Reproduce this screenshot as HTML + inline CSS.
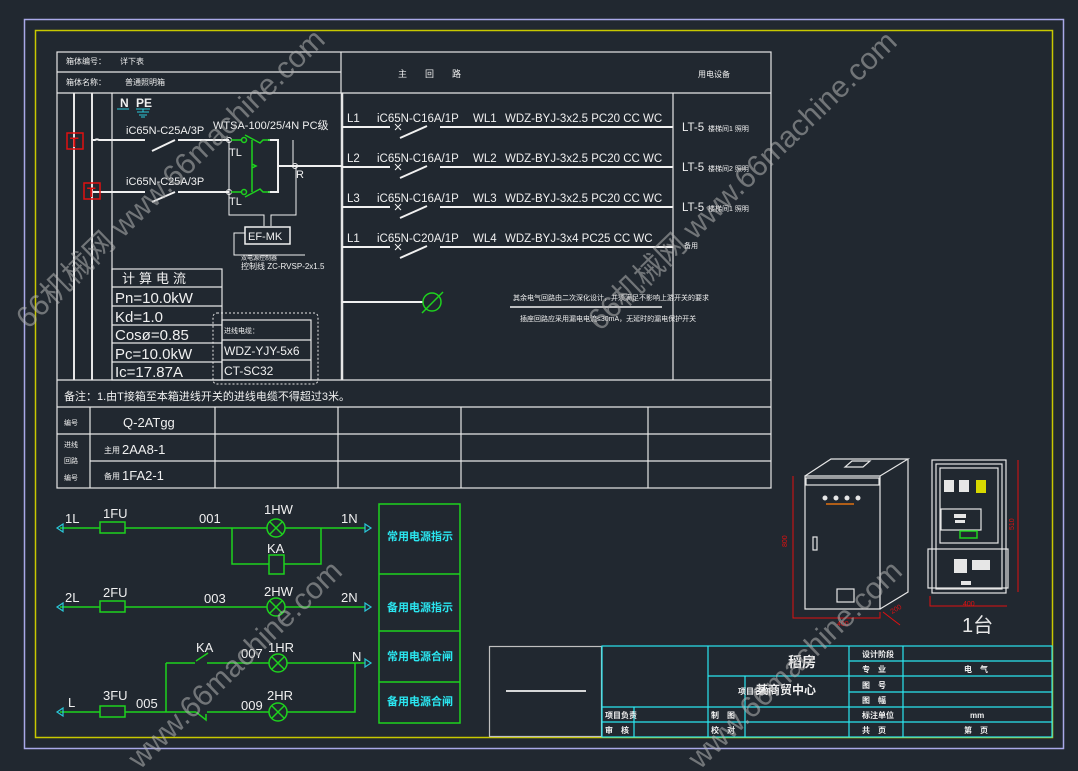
<!DOCTYPE html>
<html><head><meta charset="utf-8"><style>
html,body{margin:0;padding:0;background:#212830;}
svg{display:block}
text{font-family:"Liberation Sans","Noto Sans CJK SC",sans-serif;}
</style></head><body>
<svg width="1078" height="771" viewBox="0 0 1078 771" xmlns="http://www.w3.org/2000/svg">
<rect width="1078" height="771" fill="#212830"/>
<rect x="24.5" y="19.5" width="1039" height="729" fill="none" stroke="#a9a9e8" stroke-width="1.5"/>
<rect x="35.5" y="30.5" width="1017" height="707" fill="none" stroke="#c8c800" stroke-width="1.5"/>

<g stroke="#e6e6e6" stroke-width="1.2" fill="none">
<rect x="57" y="52" width="714" height="436"/>
<line x1="57" y1="72" x2="341" y2="72"/>
<line x1="341" y1="52" x2="341" y2="93"/>
<line x1="57" y1="93" x2="771" y2="93"/>
<line x1="673" y1="93" x2="673" y2="380"/>
<line x1="57" y1="380" x2="771" y2="380"/>
<line x1="57" y1="407" x2="771" y2="407"/>
<line x1="57" y1="434" x2="771" y2="434"/>
<line x1="90" y1="461" x2="771" y2="461"/>
<line x1="90" y1="407" x2="90" y2="488"/>
<line x1="215" y1="407" x2="215" y2="488"/>
<line x1="338" y1="407" x2="338" y2="488"/>
<line x1="461" y1="407" x2="461" y2="488"/>
<line x1="648" y1="407" x2="648" y2="488"/>
<line x1="74" y1="93" x2="74" y2="380" stroke-width="2"/>
<line x1="92" y1="93" x2="92" y2="380" stroke-width="2"/>
<line x1="112" y1="93" x2="112" y2="380"/>
<line x1="342" y1="93" x2="342" y2="380" stroke-width="2.5"/>
<rect x="112" y="269" width="110" height="111"/>
<line x1="112" y1="287" x2="222" y2="287"/>
<line x1="112" y1="306" x2="222" y2="306"/>
<line x1="112" y1="325" x2="222" y2="325"/>
<line x1="112" y1="343" x2="222" y2="343"/>
<line x1="112" y1="362" x2="222" y2="362"/>
<rect x="222" y="320" width="89" height="60"/>
<line x1="222" y1="340" x2="311" y2="340"/>
<line x1="222" y1="360" x2="311" y2="360"/>
</g>
<rect x="213" y="313" width="105" height="71" rx="4" fill="none" stroke="#e6e6e6" stroke-width="1" stroke-dasharray="2,2"/>

<g stroke="#f0f0f0" stroke-width="2" fill="none">
<path d="M342 127H390M400 138L427 126M440 127H673"/>
<path d="M342 167H390M400 178L427 166M440 167H673"/>
<path d="M342 207H390M400 218L427 206M440 207H673"/>
<path d="M342 247H390M400 258L427 246M440 247H673"/>
<path d="M342 302H423"/>
</g>
<g stroke="#f0f0f0" stroke-width="1">
<path d="M395 124l6 6M401 124l-6 6M395 164l6 6M401 164l-6 6M395 204l6 6M401 204l-6 6M395 244l6 6M401 244l-6 6"/>
</g>
<circle cx="432" cy="302" r="9" fill="none" stroke="#1ed21e" stroke-width="1.5"/>
<line x1="422" y1="313" x2="443" y2="292" stroke="#1ed21e" stroke-width="1.5"/>
<line x1="510" y1="307" x2="662" y2="307" stroke="#f0f0f0" stroke-width="1.5"/>

<g fill="#f0f0f0" font-size="11.5">
<text x="347" y="122">L1</text><text x="377" y="122">iC65N-C16A/1P</text><text x="473" y="122">WL1</text><text x="505" y="122">WDZ-BYJ-3x2.5 PC20 CC WC</text>
<text x="347" y="162">L2</text><text x="377" y="162">iC65N-C16A/1P</text><text x="473" y="162">WL2</text><text x="505" y="162">WDZ-BYJ-3x2.5 PC20 CC WC</text>
<text x="347" y="202">L3</text><text x="377" y="202">iC65N-C16A/1P</text><text x="473" y="202">WL3</text><text x="505" y="202">WDZ-BYJ-3x2.5 PC20 CC WC</text>
<text x="347" y="242">L1</text><text x="377" y="242">iC65N-C20A/1P</text><text x="473" y="242">WL4</text><text x="505" y="242">WDZ-BYJ-3x4 PC25 CC WC</text>
<text x="682" y="131">LT-5</text><text x="708" y="131" font-size="7">楼梯间1 照明</text>
<text x="682" y="171">LT-5</text><text x="708" y="171" font-size="7">楼梯间2 照明</text>
<text x="682" y="211">LT-5</text><text x="708" y="211" font-size="7">楼梯间1 照明</text>
<text x="684" y="248" font-size="7">备用</text>
<text x="513" y="300" font-size="7">其余电气回路由二次深化设计，并须满足不影响上游开关的要求</text>
<text x="520" y="321" font-size="7">插座回路应采用漏电电流≤30mA，无延时的漏电保护开关</text>
<text x="398" y="77" font-size="9">主　　回　　路</text>
<text x="698" y="77" font-size="8">用电设备</text>
<text x="66" y="64" font-size="8">箱体编号：</text><text x="120" y="64" font-size="8">详下表</text>
<text x="66" y="85" font-size="8">箱体名称：</text><text x="125" y="85" font-size="8">普通照明箱</text>
<text x="64" y="400" font-size="11">备注：1.由T接箱至本箱进线开关的进线电缆不得超过3米。</text>
<text x="122" y="283" font-size="13" letter-spacing="4">计算电流</text>
<text x="115" y="303" font-size="15">Pn=10.0kW</text>
<text x="115" y="322" font-size="15">Kd=1.0</text>
<text x="115" y="340" font-size="15">Cosø=0.85</text>
<text x="115" y="359" font-size="15">Pc=10.0kW</text>
<text x="115" y="377" font-size="15">Ic=17.87A</text>
<text x="224" y="333" font-size="7">进线电缆：</text>
<text x="224" y="355" font-size="12">WDZ-YJY-5x6</text>
<text x="224" y="375" font-size="12">CT-SC32</text>
<text x="64" y="425" font-size="7">编号</text>
<text x="123" y="427" font-size="13">Q-2ATgg</text>
<text x="64" y="447" font-size="7">进线</text><text x="64" y="463" font-size="7">回路</text><text x="64" y="480" font-size="7">编号</text>
<text x="104" y="453" font-size="8">主用</text><text x="122" y="454" font-size="13">2AA8-1</text>
<text x="104" y="479" font-size="8">备用</text><text x="122" y="480" font-size="13">1FA2-1</text>
<text x="126" y="134" font-size="11">iC65N-C25A/3P</text>
<text x="126" y="185" font-size="11">iC65N-C25A/3P</text>
<text x="213" y="129" font-size="11">WTSA-100/25/4N PC级</text>
<text x="229" y="156" font-size="11">TL</text><text x="229" y="205" font-size="11">TL</text><text x="296" y="178" font-size="11">R</text>
<text x="248" y="240" font-size="11">EF-MK</text>
<text x="241" y="260" font-size="6">双电源控制器</text>
<text x="241" y="269" font-size="8">控制线 ZC-RVSP-2x1.5</text>
</g>
<text x="120" y="107" font-size="12" font-weight="bold" fill="#f0f0f0">N</text>
<text x="136" y="107" font-size="12" font-weight="bold" fill="#f0f0f0">PE</text>
<path d="M117 109H129M136 109H150M143 109v3M137 112h12M139 115h8M141 117h4" stroke="#2ac8d8" stroke-width="1" fill="none"/>

<g stroke="#f0f0f0" fill="none">
<path d="M92 140H95a4 4 0 0 1 4 0H145M152 151L175 140M178 140H229" stroke-width="2"/>
<path d="M92 192H145M152 202L175 192M178 192H229" stroke-width="2"/>
<path d="M229 140V192M229 192V215H264V226M293 140V166M296 166V215H271V226M293 166H342" stroke-width="1"/>
<path d="M268 140H278V192H268M278 166H342" stroke-width="2"/>
<path d="M245 233H234V255H305" stroke-width="1"/>
<rect x="245" y="227" width="45" height="17" stroke-width="1.5"/>
<circle cx="229" cy="140" r="2.5"/><circle cx="229" cy="192" r="2.5"/><circle cx="295" cy="166" r="2.5"/>
</g>
<g stroke="#1ed21e" stroke-width="1.5" fill="none">
<path d="M231 140H242M231 192H242"/><circle cx="244" cy="140" r="2.5"/><circle cx="244" cy="192" r="2.5"/>
<path d="M245 135L260 143L263 140H270M245 197L260 189L263 192H270M252 140V192M252 164l4 2l-4 2"/>
</g>
<rect x="67" y="133" width="16" height="16" fill="none" stroke="#e01010" stroke-width="1.5"/>
<text x="70" y="147" fill="#e01010" font-size="14" font-weight="bold">T</text>
<rect x="84" y="183" width="16" height="16" fill="none" stroke="#e01010" stroke-width="1.5"/>
<text x="87" y="197" fill="#e01010" font-size="14" font-weight="bold">T</text>

<g stroke="#1ed21e" stroke-width="1.5" fill="none">
<path d="M60 528H100M125 528H267M285 528H365"/>
<rect x="100" y="522" width="25" height="11"/>
<path d="M232 528V564H269M284 564H321V528"/>
<rect x="269" y="555" width="15" height="19"/>
<path d="M60 607H100M125 607H267M285 607H365"/>
<rect x="100" y="601" width="25" height="11"/>
<path d="M166 663H195M207 663H269M287 663H365"/>
<path d="M196 661L208 653"/>
<path d="M60 712H100M125 712H196M207 712H269M287 712H355V663"/>
<path d="M196 712L206 720V714"/>
<rect x="100" y="706" width="25" height="11"/>
<path d="M166 663V712"/>
<rect x="379" y="504" width="81" height="219"/>
<path d="M379 574H460M379 631H460M379 682H460"/>
</g>
<g stroke="#1ed21e" stroke-width="1.5" fill="none">
<circle cx="276" cy="528" r="9"/><path d="M270 522l12 12M282 522l-12 12"/>
<circle cx="276" cy="607" r="9"/><path d="M270 601l12 12M282 601l-12 12"/>
<circle cx="278" cy="663" r="9"/><path d="M272 657l12 12M284 657l-12 12"/>
<circle cx="278" cy="712" r="9"/><path d="M272 706l12 12M284 706l-12 12"/>
</g>
<g stroke="#2ac8d8" stroke-width="1.2" fill="none">
<path d="M63 524L57 528L63 532Z"/><path d="M63 603L57 607L63 611Z"/><path d="M63 708L57 712L63 716Z"/>
<path d="M365 524L371 528L365 532Z"/><path d="M365 603L371 607L365 611Z"/><path d="M365 659L371 663L365 667Z"/>
</g>
<g fill="#f0f0f0" font-size="13">
<text x="65" y="523">1L</text><text x="103" y="518">1FU</text><text x="199" y="523">001</text><text x="264" y="514">1HW</text><text x="341" y="523">1N</text><text x="267" y="553">KA</text>
<text x="65" y="602">2L</text><text x="103" y="597">2FU</text><text x="204" y="603">003</text><text x="264" y="596">2HW</text><text x="341" y="602">2N</text>
<text x="196" y="652">KA</text><text x="241" y="658">007</text><text x="268" y="652">1HR</text><text x="352" y="661">N</text>
<text x="68" y="707">L</text><text x="103" y="700">3FU</text><text x="136" y="708">005</text><text x="241" y="710">009</text><text x="267" y="700">2HR</text>
</g>
<g fill="#2ae6f0" font-size="11" font-weight="bold" text-anchor="middle">
<text x="420" y="540">常用电源指示</text><text x="420" y="611">备用电源指示</text><text x="420" y="660">常用电源合闸</text><text x="420" y="705">备用电源合闸</text>
</g>

<g stroke="#e6e6e6" stroke-width="1.2" fill="none">
<path d="M805 476H880V609H805Z"/><path d="M805 476L831 459H908L880 476M908 459V592L880 609"/>
<rect x="806" y="478" width="73" height="7"/>
<polygon points="852,461 870,461 863,467 845,467"/>
<rect x="813" y="537" width="4" height="13"/>
<rect x="837" y="589" width="17" height="13"/>
<rect x="932" y="460" width="74" height="133"/><rect x="936" y="464" width="66" height="125"/>
<rect x="940" y="468" width="58" height="75"/>
<rect x="941" y="509" width="40" height="21"/>
<rect x="928" y="549" width="80" height="39"/>
</g>
<g fill="#e6e6e6">
<rect x="944" y="480" width="10" height="12"/><rect x="959" y="480" width="10" height="12"/>
<rect x="954" y="514" width="12" height="4"/><rect x="955" y="520" width="10" height="3"/>
<rect x="954" y="559" width="13" height="14"/><rect x="972" y="560" width="18" height="10"/>
<rect x="961" y="581" width="10" height="4"/>
<text x="962" y="632" font-family="Liberation Serif,serif" font-size="20">1台</text>
</g>
<rect x="976" y="480" width="10" height="13" fill="#d8d800"/>
<rect x="960" y="531" width="17" height="7" fill="none" stroke="#1ed21e" stroke-width="1.5"/>
<path d="M826 504h28" stroke="#e07010" stroke-width="1.5"/>
<g stroke="#e6e6e6" fill="#e6e6e6"><circle cx="825" cy="498" r="2"/><circle cx="836" cy="498" r="2"/><circle cx="847" cy="498" r="2"/><circle cx="858" cy="498" r="2"/></g>
<g stroke="#e01010" stroke-width="1" fill="none">
<path d="M793 476V609M793 609V618H880V612M930 596V606H1007M1018 460V592"/><path d="M883 612L900 625"/>
</g>
<g fill="#e01010" font-size="7">
<text x="787" y="547" transform="rotate(-90 787 547)">800</text><text x="837" y="626">400</text><text x="1014" y="530" transform="rotate(-90 1014 530)">510</text><text x="963" y="606">400</text><text x="892" y="614" transform="rotate(-30 892 614)">200</text>
</g>

<rect x="489.5" y="646.5" width="112" height="90" fill="none" stroke="#c0c0c0" stroke-width="1.2"/>
<line x1="506" y1="691" x2="586" y2="691" stroke="#f0f0f0" stroke-width="1.8"/>
<g stroke="#2ae6f0" stroke-width="1.2" fill="none">
<rect x="602" y="646" width="450" height="91"/>
<path d="M708 646V737M745 676V737M849 646V737M903 646V737M634 707V737"/>
<path d="M708 676H849M602 707H849M602 722H849"/>
<path d="M849 661H1052M849 676H1052M849 692H1052M849 707H1052M849 722H1052"/>
</g>
<g fill="#f0f0f0" font-size="8" font-weight="bold">
<text x="788" y="667" font-size="14">稻房</text>
<text x="738" y="694" font-size="8">项目名称</text><text x="756" y="694" font-size="12">某商贸中心</text>
<text x="605" y="718">项目负责</text><text x="605" y="733">审　核</text>
<text x="711" y="718">制　图</text><text x="711" y="733">校　对</text>
<text x="862" y="657">设计阶段</text><text x="862" y="672">专　业</text><text x="862" y="688">图　号</text><text x="862" y="703">图　幅</text><text x="862" y="718">标注单位</text><text x="862" y="733">共　页</text>
<text x="964" y="672">电　气</text><text x="970" y="718">mm</text><text x="964" y="733">第　页</text>
</g>

<g fill="#b4b4b4" fill-opacity="0.55" font-size="30" font-family="Liberation Sans,Noto Sans CJK SC,sans-serif">
<text transform="translate(28 330) rotate(-44)">66机械网 www.66machine.com</text>
<text transform="translate(600 332) rotate(-44)">66机械网 www.66machine.com</text>
<text transform="translate(140 770) rotate(-44)">www.66machine.com</text>
<text transform="translate(700 770) rotate(-44)">www.66machine.com</text>
</g>
</svg>
</body></html>
